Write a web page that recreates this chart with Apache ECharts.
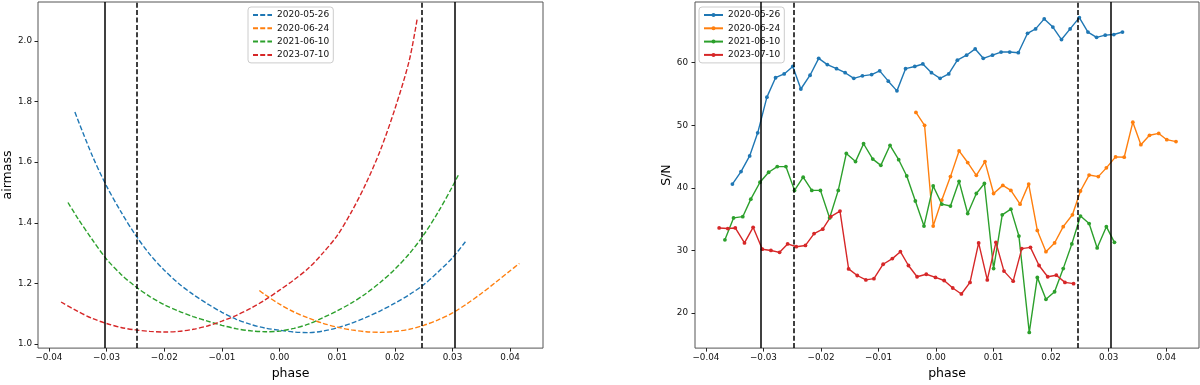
<!DOCTYPE html>
<html>
<head>
<meta charset="utf-8">
<script src="https://cdn.jsdelivr.net/npm/echarts@6.0.0/dist/echarts.min.js"></script>
<style>
  html, body { margin: 0; padding: 0; background: #fff; }
  #main { width: 1200px; height: 385px; }
</style>
</head>
<body>
<div id="main"></div>
<script>
// series names (observation nights)
var nights = ['2020-05-26', '2020-06-24', '2021-06-10', '2023-07-10'];
var colors = ['#1f77b4', '#ff7f0e', '#2ca02c', '#d62728'];

// left panel: airmass vs phase
var amPhase0526 = [-0.0355, -0.0325, -0.030, -0.0275, -0.025, -0.0225, -0.020, -0.0175, -0.015, -0.0125, -0.010, -0.0075, -0.005, -0.0025, 0.000, 0.0025, 0.005, 0.0075, 0.010, 0.0125, 0.015, 0.0175, 0.020, 0.0225, 0.025, 0.0275, 0.030, 0.0323];
var am0526 = [1.765, 1.622, 1.521, 1.436, 1.360, 1.296, 1.244, 1.200, 1.164, 1.133, 1.105, 1.082, 1.065, 1.053, 1.046, 1.040, 1.038, 1.043, 1.054, 1.069, 1.088, 1.110, 1.135, 1.163, 1.196, 1.238, 1.285, 1.339];
var amPhase0624 = [-0.0035, -0.0025, 0.000, 0.0025, 0.005, 0.0075, 0.010, 0.0125, 0.015, 0.0175, 0.020, 0.0225, 0.025, 0.0275, 0.030, 0.0325, 0.035, 0.0375, 0.040, 0.0416];
var am0624 = [1.177, 1.163, 1.132, 1.106, 1.086, 1.069, 1.056, 1.047, 1.041, 1.039, 1.042, 1.049, 1.062, 1.080, 1.103, 1.133, 1.167, 1.204, 1.242, 1.266];
var amPhase0610 = [-0.0367, -0.035, -0.0325, -0.030, -0.0275, -0.025, -0.0225, -0.020, -0.0175, -0.015, -0.0125, -0.010, -0.0075, -0.005, -0.0025, 0.000, 0.0025, 0.005, 0.0075, 0.010, 0.0125, 0.015, 0.0175, 0.020, 0.0225, 0.025, 0.0275, 0.030, 0.031];
var am0610 = [1.467, 1.415, 1.345, 1.280, 1.230, 1.190, 1.157, 1.130, 1.109, 1.091, 1.076, 1.062, 1.051, 1.044, 1.041, 1.043, 1.052, 1.066, 1.087, 1.110, 1.136, 1.167, 1.204, 1.247, 1.298, 1.360, 1.435, 1.520, 1.557];
var amPhase0710 = [-0.0379, -0.035, -0.0325, -0.030, -0.0275, -0.025, -0.0225, -0.020, -0.0175, -0.015, -0.0125, -0.010, -0.0075, -0.005, -0.0025, 0.000, 0.0025, 0.005, 0.0075, 0.010, 0.0125, 0.015, 0.0175, 0.020, 0.0225, 0.0239];
var am0710 = [1.139, 1.108, 1.085, 1.068, 1.055, 1.047, 1.042, 1.040, 1.042, 1.049, 1.060, 1.076, 1.095, 1.118, 1.146, 1.178, 1.212, 1.250, 1.300, 1.358, 1.437, 1.530, 1.640, 1.775, 1.935, 2.075];

// right panel: S/N vs phase
var snPhase0526 = [-0.0354, -0.0339, -0.0324, -0.0310, -0.0294, -0.0279, -0.0264, -0.0249, -0.0235, -0.0219, -0.0204, -0.0189, -0.0173, -0.0158, -0.0143, -0.0128, -0.0112, -0.0098, -0.0083, -0.0068, -0.0053, -0.0037, -0.0023, -0.0008, 0.0007, 0.0022, 0.0037, 0.0053, 0.0068, 0.0082, 0.0098, 0.0113, 0.0128, 0.0143, 0.0159, 0.0173, 0.0188, 0.0203, 0.0218, 0.0233, 0.0249, 0.0264, 0.0279, 0.0294, 0.0309, 0.0324];
var sn0526 = [40.6, 42.6, 45.1, 48.8, 54.5, 57.6, 58.2, 59.4, 55.8, 58.0, 60.7, 59.7, 59.05, 58.4, 57.5, 57.9, 58.1, 58.7, 57.05, 55.5, 59.05, 59.4, 59.8, 58.4, 57.5, 58.2, 60.4, 61.2, 62.2, 60.7, 61.2, 61.7, 61.7, 61.6, 64.7, 65.4, 67.0, 65.7, 63.7, 65.4, 67.2, 64.9, 64.05, 64.4, 64.5, 64.9];
var snPhase0624 = [-0.0035, -0.0020, -0.0005, 0.0010, 0.0025, 0.0040, 0.0055, 0.0070, 0.0085, 0.0100, 0.0116, 0.0130, 0.0146, 0.0161, 0.0176, 0.0191, 0.0206, 0.0221, 0.0237, 0.0251, 0.0266, 0.0282, 0.0296, 0.0312, 0.0327, 0.0342, 0.0356, 0.0371, 0.0387, 0.0401, 0.0417];
var sn0624 = [52.05, 50.0, 33.9, 38.05, 41.8, 45.9, 44.05, 42.0, 44.2, 39.1, 40.4, 39.6, 37.4, 40.6, 33.2, 29.8, 31.2, 33.8, 35.7, 39.5, 42.05, 41.8, 43.2, 44.95, 44.9, 50.5, 46.9, 48.4, 48.7, 47.7, 47.4];
var snPhase0610 = [-0.0367, -0.0352, -0.0336, -0.0322, -0.0306, -0.0291, -0.0276, -0.0261, -0.0246, -0.0231, -0.0216, -0.0201, -0.0185, -0.0170, -0.0156, -0.0140, -0.0126, -0.0110, -0.0096, -0.0080, -0.0065, -0.0051, -0.0036, -0.0021, -0.0005, 0.0010, 0.0025, 0.0040, 0.0055, 0.0070, 0.0084, 0.0100, 0.0115, 0.0130, 0.0144, 0.0162, 0.0176, 0.0191, 0.0206, 0.0221, 0.0236, 0.0251, 0.0266, 0.0280, 0.0296, 0.0310];
var sn0610 = [31.7, 35.2, 35.4, 38.2, 40.9, 42.5, 43.4, 43.4, 39.6, 41.7, 39.6, 39.6, 35.2, 39.6, 45.5, 44.2, 47.05, 44.6, 43.6, 46.8, 44.5, 41.9, 37.9, 33.9, 40.3, 37.4, 37.1, 41.05, 35.9, 39.1, 40.7, 27.1, 35.7, 36.6, 32.3, 16.9, 25.7, 22.2, 23.4, 27.1, 31.05, 35.5, 34.3, 30.4, 33.8, 31.3];
var snPhase0710 = [-0.0377, -0.0362, -0.0349, -0.0333, -0.0318, -0.0302, -0.0287, -0.0272, -0.0258, -0.0243, -0.0227, -0.0212, -0.0197, -0.0183, -0.0167, -0.0152, -0.0137, -0.0122, -0.0108, -0.0092, -0.0076, -0.0062, -0.0048, -0.0033, -0.0017, -0.0001, 0.0014, 0.0029, 0.0044, 0.0059, 0.0074, 0.0089, 0.0104, 0.0118, 0.0134, 0.0149, 0.0164, 0.0179, 0.0194, 0.0209, 0.0224, 0.0239];
var sn0710 = [33.6, 33.5, 33.6, 31.2, 33.7, 30.2, 30.0, 29.7, 31.05, 30.6, 30.8, 32.7, 33.4, 35.4, 36.3, 27.05, 26.0, 25.3, 25.5, 27.8, 28.7, 29.8, 27.6, 25.8, 26.2, 25.7, 25.2, 24.0, 23.05, 24.9, 31.2, 25.3, 31.3, 26.7, 25.1, 30.3, 30.5, 27.6, 25.8, 26.05, 24.9, 24.7];

// transit contact lines
var solidLines = [-0.0304, 0.0304];
var dashedLines = [-0.0247, 0.0247];

// tick labels
var phaseTicks = [-0.04, -0.03, -0.02, -0.01, 0.00, 0.01, 0.02, 0.03, 0.04];
var airmassTicks = [1.0, 1.2, 1.4, 1.6, 1.8, 2.0];
var snTicks = [20, 30, 40, 50, 60];

var amPhases = [amPhase0526, amPhase0624, amPhase0610, amPhase0710];
var amValues = [am0526, am0624, am0610, am0710];
var snPhases = [snPhase0526, snPhase0624, snPhase0610, snPhase0710];
var snValues = [sn0526, sn0624, sn0610, sn0710];

function zip(xs, ys) {
  return xs.map(function (x, i) { return [x, ys[i]]; });
}

function fmtPhase(v) {
  var s = Math.abs(v).toFixed(2);
  return (v < -1e-9 ? '\u2212' : '') + s;
}

var font = 'DejaVu Sans';
var tickStyle = { show: true, length: 3.5, lineStyle: { color: '#222', width: 1 } };

function xAxisFor(idx) {
  return {
    type: 'value', gridIndex: idx, min: -0.0419, max: 0.0457,
    name: 'phase', nameLocation: 'middle', nameGap: 17,
    nameTextStyle: { fontFamily: font, fontSize: 12.5, color: '#000' },
    axisLine: { show: false, onZero: false },
    axisTick: Object.assign({ customValues: phaseTicks }, tickStyle),
    axisLabel: { customValues: phaseTicks, formatter: fmtPhase, fontFamily: font, fontSize: 8.8, color: '#111', margin: 5 },
    splitLine: { show: false }
  };
}

var series = [];
nights.forEach(function (n, i) {
  series.push({
    name: n, type: 'line', xAxisIndex: 0, yAxisIndex: 0,
    data: zip(amPhases[i], amValues[i]),
    smooth: 0.3, showSymbol: false, symbol: 'none',
    lineStyle: { color: colors[i], width: 1.4, type: [5, 2.2] },
    itemStyle: { color: colors[i] },
    z: 3
  });
});
nights.forEach(function (n, i) {
  series.push({
    name: 'sn:' + n, type: 'line', xAxisIndex: 1, yAxisIndex: 1,
    data: zip(snPhases[i], snValues[i]),
    symbol: 'circle', symbolSize: 3.8,
    lineStyle: { color: colors[i], width: 1.4 },
    itemStyle: { color: colors[i] },
    z: 3
  });
});

function contactLines(idx) {
  var d = [];
  solidLines.forEach(function (v) { d.push({ xAxis: v, lineStyle: { type: 'solid' } }); });
  dashedLines.forEach(function (v) { d.push({ xAxis: v, lineStyle: { type: [5, 2.4] } }); });
  return {
    type: 'line', xAxisIndex: idx, yAxisIndex: idx, data: [], z: 4,
    markLine: {
      silent: true, symbol: ['none', 'none'], label: { show: false },
      precision: 5,
      lineStyle: { color: '#000', width: 1.5 },
      emphasis: { disabled: true },
      data: d
    }
  };
}
series.push(contactLines(0));
series.push(contactLines(1));

var legendBase = {
  orient: 'vertical', itemWidth: 19, itemGap: 3.3,
  padding: [3, 4, 3, 4],
  backgroundColor: 'rgba(255,255,255,0.8)', borderColor: '#ccc', borderWidth: 1, borderRadius: 3,
  textStyle: { fontFamily: font, fontSize: 9, color: '#111', lineHeight: 10 },
  selectedMode: false
};

var chart = echarts.init(document.getElementById('main'));
chart.setOption({
  animation: false,
  backgroundColor: '#fff',
  grid: [
    { left: 38, top: 2, width: 505, height: 350, show: true, borderColor: '#555', borderWidth: 1 },
    { left: 695, top: 2, width: 504, height: 350, show: true, borderColor: '#555', borderWidth: 1 }
  ],
  xAxis: [xAxisFor(0), xAxisFor(1)],
  yAxis: [
    {
      type: 'value', gridIndex: 0, min: 0.987, max: 2.128,
      name: 'airmass', nameLocation: 'middle', nameGap: 24,
      nameTextStyle: { fontFamily: font, fontSize: 12.5, color: '#000' },
      axisLine: { show: false, onZero: false },
      axisTick: Object.assign({ customValues: airmassTicks }, tickStyle),
      axisLabel: { customValues: airmassTicks, formatter: function (v) { return v.toFixed(1); }, fontFamily: font, fontSize: 8.8, color: '#111', margin: 6 },
      splitLine: { show: false }
    },
    {
      type: 'value', gridIndex: 1, min: 14.4, max: 69.7,
      name: 'S/N', nameLocation: 'middle', nameGap: 22,
      nameTextStyle: { fontFamily: font, fontSize: 12.5, color: '#000' },
      axisLine: { show: false, onZero: false },
      axisTick: Object.assign({ customValues: snTicks }, tickStyle),
      axisLabel: { customValues: snTicks, formatter: function (v) { return String(v); }, fontFamily: font, fontSize: 8.8, color: '#111', margin: 7 },
      splitLine: { show: false }
    }
  ],
  legend: [
    Object.assign({ left: 248, top: 7, data: nights, itemHeight: 8, itemStyle: { opacity: 0 } }, legendBase),
    Object.assign({
      left: 699, top: 7, itemHeight: 5,
      data: nights.map(function (n) { return 'sn:' + n; }),
      formatter: function (name) { return name.replace('sn:', ''); }
    }, legendBase)
  ],
  series: series
});
</script>
</body>
</html>
